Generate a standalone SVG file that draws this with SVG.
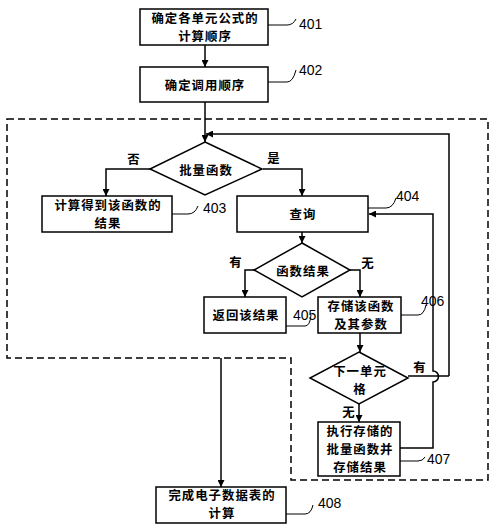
<svg xmlns="http://www.w3.org/2000/svg" width="500" height="532" viewBox="0 0 500 532">
<style>
.box{fill:#fff;stroke:#000;stroke-width:1.5}
.t{font-family:"Noto Sans CJK SC","Noto Sans CJK TC",sans-serif;font-size:12.4px;font-weight:bold;letter-spacing:1px;text-anchor:middle;dominant-baseline:central;fill:#000}
.n{font-family:"Liberation Sans",Arial,sans-serif;font-size:14px;fill:#000;dominant-baseline:central}
.c{fill:none;stroke:#000;stroke-width:1.5}
.lead{fill:none;stroke:#000;stroke-width:1}
.dash{fill:none;stroke:#000;stroke-width:1.5;stroke-dasharray:7,4}
</style>
<defs>
<marker id="ah" viewBox="0 0 10 10" refX="10" refY="5" markerWidth="7" markerHeight="7" markerUnits="userSpaceOnUse" orient="auto">
<path d="M0,0 L10,5 L0,10 z" fill="#000"/>
</marker>
</defs>
<rect x="0" y="0" width="500" height="532" fill="#fff"/>
<g id="connectors">
<path class="dash" d="M7,119 H488 V480 H291 V358 H7 Z"/>
<path class="c" d="M205,45 V67" marker-end="url(#ah)"/>
<path class="c" d="M205,102 V142" marker-end="url(#ah)"/>
<path class="c" d="M449,376 V134 H206" marker-end="url(#ah)"/>
<path class="c" d="M408,376 H449"/>
<path class="c" d="M150,169 H106 V196" marker-end="url(#ah)"/>
<path class="c" d="M263,169 H302 V196" marker-end="url(#ah)"/>
<path class="c" d="M302,232 V243" marker-end="url(#ah)"/>
<path class="c" d="M254,270 H245 V297" marker-end="url(#ah)"/>
<path class="c" d="M350,270 H360 V297" marker-end="url(#ah)"/>
<path class="c" d="M360,333 V352" marker-end="url(#ah)"/>
<path class="c" d="M359,404 V422" marker-end="url(#ah)"/>
<path class="c" d="M400,448 H433 V382 A5,5 0 0 0 433,371 V214 H369" marker-end="url(#ah)"/>
<path class="c" d="M221,358 V487" marker-end="url(#ah)"/>
<path class="lead" d="M268,25 H287 Q293,25 296,19"/>
<path class="lead" d="M268,82 H287 Q293,82 296,70"/>
<path class="lead" d="M172,214 H188 Q195,214 198,206"/>
<path class="lead" d="M368,208 H386 Q393,208 396,198"/>
<path class="lead" d="M286,326 H305 Q310,326 311,315"/>
<path class="lead" d="M401,315 H418 Q424,315 426,305"/>
<path class="lead" d="M400,461 H418 Q423,461 425,457"/>
<path class="lead" d="M286,514 H305 Q311,514 313,505"/>
</g>
<g id="n401"><rect class="box" x="140" y="9" width="128" height="36"/><text class="t" x="205" y="18">确定各单元公式的</text><text class="t" x="205" y="36">计算顺序</text><text class="n" x="299" y="24">401</text></g>
<g id="n402"><rect class="box" x="140" y="67" width="128" height="35"/><text class="t" x="205" y="85">确定调用顺序</text><text class="n" x="299" y="70">402</text></g>
<g id="d1"><path class="box" d="M205,142 L262,169 L205,195 L150,169 Z"/><text class="t" x="206" y="170">批量函数</text><text class="t" x="134" y="159">否</text><text class="t" x="274" y="158">是</text></g>
<g id="n403"><rect class="box" x="42" y="196" width="130" height="36"/><text class="t" x="108" y="205">计算得到该函数的</text><text class="t" x="108" y="223">结果</text><text class="n" x="203" y="208">403</text></g>
<g id="n404"><rect class="box" x="237" y="196" width="131" height="36"/><text class="t" x="303" y="214">查询</text><text class="n" x="396" y="196">404</text></g>
<g id="d2"><path class="box" d="M302,243 L350,270 L302,297 L254,270 Z"/><text class="t" x="303" y="271">函数结果</text><text class="t" x="236" y="262">有</text><text class="t" x="368" y="263">无</text></g>
<g id="n405"><rect class="box" x="204" y="297" width="82" height="36"/><text class="t" x="246" y="315">返回该结果</text><text class="n" x="293" y="315">405</text></g>
<g id="n406"><rect class="box" x="318" y="297" width="83" height="36"/><text class="t" x="361" y="306">存储该函数</text><text class="t" x="361" y="324">及其参数</text><text class="n" x="421" y="301">406</text></g>
<g id="d3"><path class="box" d="M359,352 L408,378 L359,404 L310,378 Z"/><text class="t" x="360" y="371">下一单元</text><text class="t" x="360" y="389">格</text><text class="t" x="420" y="367">有</text><text class="t" x="349" y="412">无</text></g>
<g id="n407"><rect class="box" x="318" y="422" width="82" height="54"/><text class="t" x="360" y="431">执行存储的</text><text class="t" x="360" y="449">批量函数并</text><text class="t" x="360" y="467">存储结果</text><text class="n" x="427" y="459">407</text></g>
<g id="n408"><rect class="box" x="156" y="487" width="130" height="36"/><text class="t" x="222" y="495">完成电子数据表的</text><text class="t" x="222" y="513">计算</text><text class="n" x="318" y="503">408</text></g>
</svg>
